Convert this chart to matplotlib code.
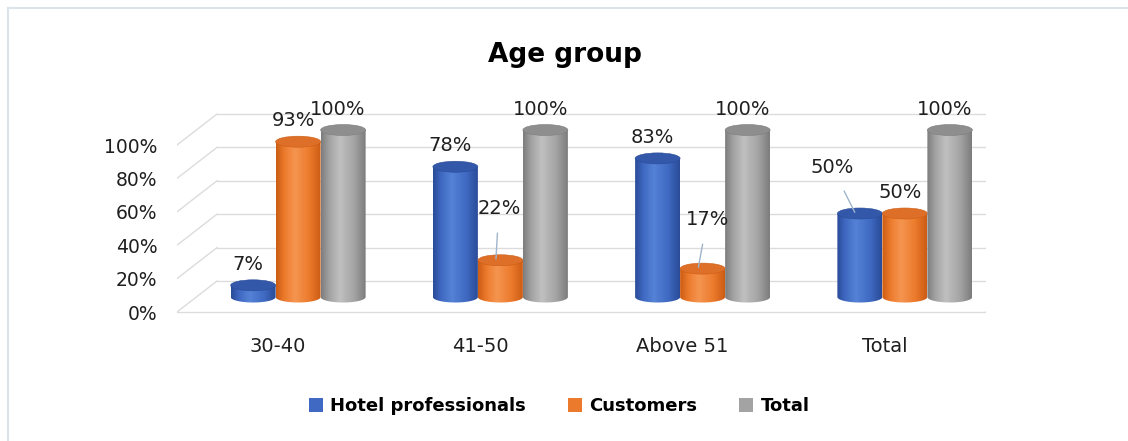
import matplotlib.pyplot as plt
import numpy as np
from matplotlib.patches import Ellipse, Patch, PathPatch
from matplotlib.path import Path
from matplotlib.lines import Line2D
from matplotlib.colors import LinearSegmentedColormap

categories = ["30-40", "41-50", "Above 51", "Total"]
series_names = ["Hotel professionals", "Customers", "Total"]
hotel_professionals = [7, 78, 83, 50]
customers = [93, 22, 17, 50]
total = [100, 100, 100, 100]
y_ticks = [0, 20, 40, 60, 80, 100]

# colour ramps for the cylinders: (edge, mid, highlight, cap)
palettes = [
    ("#2a4c98", "#3f69c2", "#5482d6", "#3358aa"),
    ("#cc5d14", "#ec7a2c", "#f59550", "#de6f28"),
    ("#7d7d7d", "#a3a3a3", "#c0c0c0", "#8e8e8e"),
]

W, H = 1128, 441
fig = plt.figure(figsize=(W / 100, H / 100), dpi=100)

# plot area in pixels (front plane): x -0.5 -> 177px, 3.5 -> 986px; y 0 -> 312px, 100 -> 145px
ppu = (312 - 145) / 100.0
ylo, yhi = -12, 135
bottom_px = 312 + (-ylo) * ppu
top_px = 312 - yhi * ppu
ax = fig.add_axes([177 / W, (H - bottom_px) / H, (986 - 177) / W, (bottom_px - top_px) / H])
for s in ax.spines.values():
    s.set_visible(False)

px_x = (986 - 177) / 4.0      # pixels per category
depth_dx = 40 / px_x           # back wall shift
depth_dy = 31 / ppu
grid_c = "#dcdcdc"

# back wall grid and left side wall
for v in y_ticks:
    ax.plot([-0.5 + depth_dx, 3.5 + depth_dx], [v + depth_dy, v + depth_dy],
            color=grid_c, lw=1, zorder=1)
    ax.plot([-0.5, -0.5 + depth_dx], [v, v + depth_dy], color=grid_c, lw=1, zorder=1)
# floor front edge and right edge
ax.plot([-0.5, 3.5], [0, 0], color=grid_c, lw=1, zorder=1)
ax.plot([3.5, 3.5 + depth_dx], [0, depth_dy], color=grid_c, lw=1, zorder=1)

bar_w = 45 / px_x
ell_h = 11 / ppu
base = 15 / ppu


def cylinder(xc, value, pal, z):
    edge, mid, hi, cap = pal
    top = base + value
    x0, x1 = xc - bar_w / 2, xc + bar_w / 2
    # body outline: rectangle plus lower half ellipse
    t = np.linspace(np.pi, 2 * np.pi, 40)
    bx = xc + bar_w / 2 * np.cos(t)
    by = base + ell_h / 2 * np.sin(t)
    verts = [(x0, top)] + list(zip(bx, by)) + [(x1, top), (x0, top)]
    codes = [Path.MOVETO] + [Path.LINETO] * (len(verts) - 2) + [Path.CLOSEPOLY]
    body = PathPatch(Path(verts, codes), facecolor="none", edgecolor="none",
                     transform=ax.transData)
    ax.add_patch(body)
    cmap = LinearSegmentedColormap.from_list(
        "c", [(0, edge), (0.18, mid), (0.42, hi), (0.75, mid), (1, edge)])
    grad = np.linspace(0, 1, 64)[None, :]
    im = ax.imshow(grad, cmap=cmap, aspect="auto", interpolation="bilinear",
                   extent=(x0, x1, base - ell_h / 2, top), zorder=z)
    im.set_clip_path(body)
    ax.add_patch(Ellipse((xc, top), bar_w, ell_h, facecolor=cap,
                         edgecolor=edge, lw=0.4, zorder=z + 0.1))
    return top


series = [hotel_professionals, customers, total]
idx = np.arange(len(categories))
shift = depth_dx / 2
label_style = dict(fontsize=14, color="#1f1f1f", ha="center", va="center")
# labels pulled away from short bars, with a leader line
moved = {(1, 1): (3, 52), (1, 2): (9, 49), (0, 3): (-23, 46)}

for k, vals in enumerate(series):
    for i, v in enumerate(vals):
        xc = idx[i] + shift + (k - 1) * bar_w
        top = cylinder(xc, v, palettes[k], 3 + i * 0.5 + k * 0.1)
        if (k, i) in moved:
            dx, dy = moved[(k, i)]
            ax.annotate(f"{v}%", xy=(xc - bar_w * 0.1, top), xycoords="data",
                        xytext=(dx * 0.72, dy * 0.72), textcoords="offset points",
                        arrowprops=dict(arrowstyle="-", color="#9fb4cc", lw=1,
                                        shrinkA=9, shrinkB=1),
                        zorder=10, **label_style)
        else:
            ax.annotate(f"{v}%", xy=(xc, top), xycoords="data",
                        xytext=(-5 * 0.72, 21 * 0.72), textcoords="offset points",
                        zorder=10, **label_style)

ax.set_yticks(y_ticks)
ax.set_yticklabels([f"{v}%" for v in y_ticks])
ax.set_xticks(idx)
ax.set_xticklabels(categories)
ax.tick_params(axis="y", length=0, pad=14, labelsize=13.5, labelcolor="#1f1f1f")
ax.tick_params(axis="x", length=0, pad=18, labelsize=14, labelcolor="#1f1f1f")
ax.set_xlim(-0.5, 3.5)
ax.set_ylim(ylo, yhi)
ax.spines["bottom"].set_position(("data", 0))

fig.text(565 / W, 1 - 55 / H, "Age group", ha="center", va="center",
         fontsize=19, fontweight="bold", color="black")

handles = [Patch(facecolor=p[1], edgecolor="none") for p in palettes]
fig.legend(handles, series_names, loc="center", bbox_to_anchor=(559 / W, 1 - 406 / H),
           ncol=3, frameon=False, prop=dict(size=13, weight="bold"),
           handlelength=0.8, handleheight=0.8, handletextpad=0.4, columnspacing=2.3)

# outer chart border (top and left edges)
fig.add_artist(Line2D([8 / W, 8 / W], [0, 1 - 8 / H], color="#dde3ea", lw=1.5))
fig.add_artist(Line2D([8 / W, 1], [1 - 8 / H, 1 - 8 / H], color="#dde3ea", lw=1.5))

fig.savefig("out.png", dpi=100)
